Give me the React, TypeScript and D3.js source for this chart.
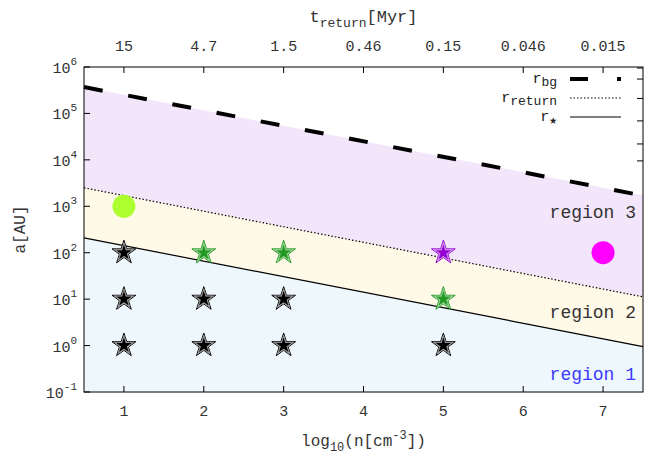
import React from "react";
import * as d3 from "d3";

const xTicks = [1, 2, 3, 4, 5, 6, 7];
const topTickLabels = ["15", "4.7", "1.5", "0.46", "0.15", "0.046", "0.015"];
const yExponents = [-1, 0, 1, 2, 3, 4, 5, 6];
const rightTickValues = [9.5e5, 5.5e5, 2.1e5, 6.9e4, 2.2e4, 9.5e3];

const lineX = [0.5, 7.5];
const rBg = [3.7e5, 1.7e3];
const rReturn = [2500, 11.2];
const rStar = [209, 0.95];

const blackStarsX = [1, 1, 1, 2, 2, 3, 3, 5];
const blackStarsY = [100, 10, 1, 10, 1, 10, 1, 1];
const greenStarsX = [2, 3, 5];
const greenStarsY = [100, 100, 10];
const purpleStarsX = [5];
const purpleStarsY = [100];
const circlesX = [1, 7];
const circlesY = [1000, 100];
const circleColors = ["#adff2f", "#ff00ff"];

const W = 651;
const H = 461;
const L = 84, R = 643, T = 67, B = 392;
const FONT = "'Liberation Mono', 'DejaVu Sans Mono', monospace";

const x = d3.scaleLinear().domain([0.5, 7.5]).range([L, R]);
const y = d3.scaleLog().domain([0.1, 1e6]).range([B, T]);

const starPath = (r: number) =>
  d3.symbol().type(d3.symbolStar).size((r * r) / 0.8908130915292852)() as string;

function Star({ cx, cy, color, light }: { cx: number; cy: number; color: string; light: string }) {
  return (
    <g transform={`translate(${x(cx)},${y(cy)})`}>
      <path d={starPath(12.5)} fill="#ffffff" fillOpacity={0.7} stroke={color} strokeWidth={1} />
      <path d={starPath(10)} fill="none" stroke={light} strokeWidth={1} />
      <path d={starPath(8.3)} fill={color} />
    </g>
  );
}

export default function App() {
  const pts = (vals: number[]) => lineX.map((xv, i) => [x(xv), y(vals[i])] as [number, number]);
  const line = d3.line();
  const area = (top: number[] | null, bot: number[] | null) => {
    const topPts = top ? pts(top) : lineX.map((xv) => [x(xv), T] as [number, number]);
    const botPts = bot ? pts(bot) : lineX.map((xv) => [x(xv), B] as [number, number]);
    return line([...topPts, ...botPts.reverse()]) + "Z";
  };

  return (
    <div style={{ position: "absolute", left: 0, top: 0 }}>
      <svg width={W} height={H} style={{ display: "block", background: "#fff" }} fontFamily={FONT}>
        {/* region fills */}
        <path d={area(rBg, rReturn)} fill="#f3e5fa" />
        <path d={area(rReturn, rStar)} fill="#fff9e8" />
        <path d={area(rStar, null)} fill="#eef7fc" />

        {/* lines */}
        <path d={line(pts(rBg)) as string} fill="none" stroke="#000" strokeWidth={4} strokeDasharray="19 26" />
        <path d={line(pts(rReturn)) as string} fill="none" stroke="#000" strokeWidth={1.2} strokeDasharray="1.5 2" />
        <path d={line(pts(rStar)) as string} fill="none" stroke="#000" strokeWidth={1.2} />

        {/* frame */}
        <rect x={L} y={T} width={R - L} height={B - T} fill="none" stroke="#000" strokeWidth={1} />

        {/* bottom/top ticks */}
        {xTicks.map((t, i) => (
          <g key={"xt" + t}>
            <line x1={x(t)} x2={x(t)} y1={B} y2={B - 6} stroke="#000" />
            <line x1={x(t)} x2={x(t)} y1={T} y2={T + 6} stroke="#000" />
            <text x={x(t)} y={416} textAnchor="middle" fontSize={15} fill="#333">{t}</text>
            <text x={x(t)} y={51} textAnchor="middle" fontSize={15} fill="#333">{topTickLabels[i]}</text>
          </g>
        ))}

        {/* left ticks */}
        {yExponents.map((e) => (
          <g key={"yt" + e}>
            <line x1={L} x2={L + 6} y1={y(Math.pow(10, e))} y2={y(Math.pow(10, e))} stroke="#000" />
            <text x={77} y={y(Math.pow(10, e)) + 6} textAnchor="end" fontSize={15} fill="#333">
              10<tspan dy={-8} fontSize={11}>{e}</tspan>
            </text>
          </g>
        ))}

        {/* right ticks */}
        {rightTickValues.map((v, i) => (
          <line key={"rt" + i} x1={R} x2={R - 6} y1={y(v)} y2={y(v)} stroke="#000" />
        ))}

        {/* circles */}
        {circlesX.map((cx, i) => (
          <circle key={"c" + i} cx={x(cx)} cy={y(circlesY[i])} r={11.5} fill={circleColors[i]} />
        ))}

        {/* stars */}
        {blackStarsX.map((sx, i) => (
          <Star key={"bs" + i} cx={sx} cy={blackStarsY[i]} color="#000" light="#888" />
        ))}
        {greenStarsX.map((sx, i) => (
          <Star key={"gs" + i} cx={sx} cy={greenStarsY[i]} color="#229922" light="#7bc67b" />
        ))}
        {purpleStarsX.map((sx, i) => (
          <Star key={"ps" + i} cx={sx} cy={purpleStarsY[i]} color="#9400d3" light="#c77be8" />
        ))}

        {/* region labels */}
        <text x={636} y={218} textAnchor="end" fontSize={18} fill="#333">region 3</text>
        <text x={636} y={318} textAnchor="end" fontSize={18} fill="#333">region 2</text>
        <text x={636} y={380} textAnchor="end" fontSize={18} fill="#3a3aff">region 1</text>

        {/* legend */}
        <text x={557} y={83} textAnchor="end" fontSize={15} fill="#222">
          r<tspan dy={3} fontSize={13}>bg</tspan>
        </text>
        <line x1={570} x2={621} y1={79} y2={79} stroke="#000" strokeWidth={4} strokeDasharray="18 29" />
        <text x={557} y={102} textAnchor="end" fontSize={15} fill="#222">
          r<tspan dy={3} fontSize={13}>return</tspan>
        </text>
        <line x1={570} x2={621} y1={98} y2={98} stroke="#000" strokeWidth={1.2} strokeDasharray="1.5 2" />
        <text x={557} y={121} textAnchor="end" fontSize={15} fill="#222">
          r<tspan dy={3} fontSize={13}>★</tspan>
        </text>
        <line x1={570} x2={621} y1={117} y2={117} stroke="#000" strokeWidth={1.2} />

        {/* axis titles */}
        <text x={x(4)} y={22} textAnchor="middle" fontSize={17} fill="#333">
          t<tspan dy={5} fontSize={13}>return</tspan><tspan dy={-5}>[Myr]</tspan>
        </text>
        <text x={x(4)} y={446} textAnchor="middle" fontSize={16} fill="#333">
          log<tspan dy={5} fontSize={12}>10</tspan><tspan dy={-5}>(n[cm</tspan><tspan dy={-7} fontSize={12}>-3</tspan><tspan dy={7}>])</tspan>
        </text>
        <text transform={`translate(25,${(T + B) / 2}) rotate(-90)`} textAnchor="middle" fontSize={16} fill="#333">
          a[AU]
        </text>
      </svg>
    </div>
  );
}
